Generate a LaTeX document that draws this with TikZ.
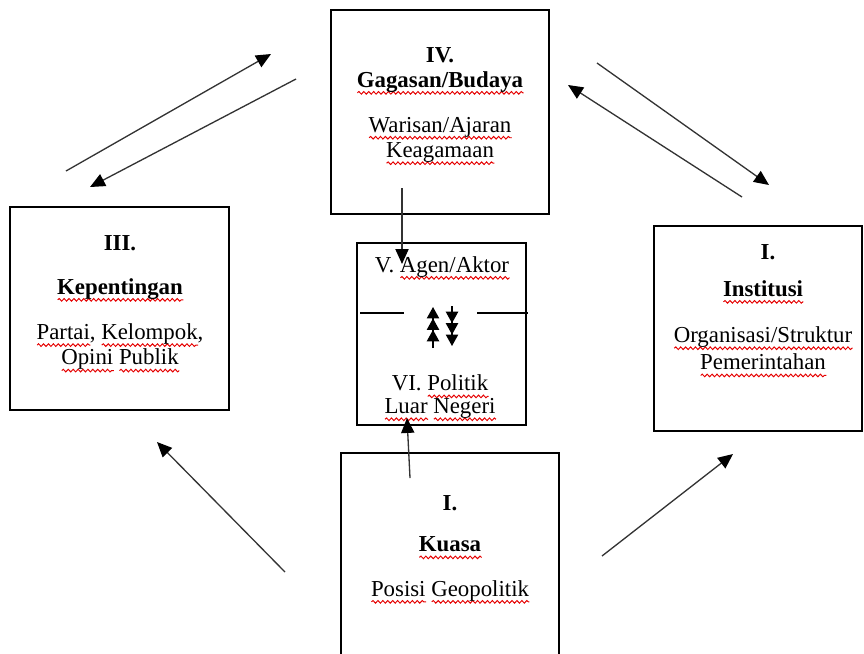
\documentclass[tikz,border=0pt]{standalone}
\usepackage{fontspec}
\setmainfont{Liberation Serif}
\usetikzlibrary{arrows.meta,decorations.pathmorphing}

% red wavy underline
\newsavebox\spellbox
\newcommand\spell[1]{\sbox\spellbox{#1}\rlap{\tikz[baseline=3.2pt,x=1cm,y=1cm]\draw[red!90!black, line width=0.55pt, decorate,
	decoration={snake, amplitude=0.75pt, segment length=2.8pt}] (0,0) -- (\wd\spellbox,0);}\usebox\spellbox}

\tikzset{
	box/.style={draw, line width=1.4pt, inner sep=0pt},
	txt/.style={font=\fontsize{13}{14.5}\selectfont, align=center, inner sep=1pt},
	hd/.style={txt, font=\fontsize{13}{14.5}\selectfont\bfseries},
	link/.style={line width=0.75pt, draw=black!80, -{Triangle[length=8.5pt,width=7.5pt,color=black]}},
	tri/.style={line width=0.7pt, -{Triangle[length=6.5pt,width=7pt] Triangle[length=6.5pt,width=7pt] Triangle[length=6.5pt,width=7pt]}}
}

\begin{document}
\begin{tikzpicture}[x=0.02cm, y=-0.02cm]
	\useasboundingbox (0,0) rectangle (864,653);
	% boxes
	\node[box, minimum width=4.36cm, minimum height=4.08cm] (gagasan) at (440,112) {};
	\node[box, minimum width=4.38cm, minimum height=4.06cm] (kepentingan) at (119.5,308.5) {};
	\node[box, minimum width=3.38cm, minimum height=3.64cm] (agen) at (441.5,334) {};
	\node[box, minimum width=4.16cm, minimum height=4.1cm] (institusi) at (758,328.5) {};
	\node[box, minimum width=4.36cm, minimum height=4.54cm] (kuasa) at (450,566.5) {};
	% texts
	\node[hd] (t4) at (440,55) {IV.};
	\node[hd] (n4) at (440,83) {\spell{Gagasan/Budaya}};
	\node[txt] (d4) at (440,141) {\spell{Warisan/Ajaran}\\ \spell{Keagamaan}};
	\node[hd] (t3) at (120,243) {III.};
	\node[hd] (n3) at (120,290) {\spell{Kepentingan}};
	\node[txt] (d3) at (120,348) {\spell{Partai}, \spell{Kelompok},\\ \spell{Opini} \spell{Publik}};
	\node[txt] (n5) at (442,268) {V. \spell{Agen/Aktor}};
	\node[txt] (n6) at (440,398) {VI. \spell{Politik}\\[-1.5pt] \spell{Luar} \spell{Negeri}};
	\node[hd] (t1) at (768,252) {I.};
	\node[hd] (n1) at (763,292) {\spell{Institusi}};
	\node[txt] (d1) at (763,352) {\spell{Organisasi/Struktur}\\[1pt] \spell{Pemerintahan}};
	\node[hd] (t0) at (450,503) {I.};
	\node[hd] (n0) at (450,548) {\spell{Kuasa}};
	\node[txt] (d0) at (450,592) {\spell{Posisi} \spell{Geopolitik}};
	% divider in V
	\draw[line width=0.7pt] (360,313) -- (404,313);
	\draw[line width=0.7pt] (477,313) -- (528,313);
	% arrow ends
	\coordinate (a1) at (66,171);   \coordinate (b1) at (271,54);
	\coordinate (a2) at (296,79);   \coordinate (b2) at (90,187);
	\coordinate (a3) at (597,63);   \coordinate (b3) at (769,185);
	\coordinate (a4) at (742,197);  \coordinate (b4) at (568,85);
	\coordinate (a5) at (285,572);  \coordinate (b5) at (157,442);
	\coordinate (a6) at (602,556);  \coordinate (b6) at (733,454);
	\coordinate (a7) at (402,188);  \coordinate (b7) at (402,264);
	\coordinate (a8) at (410,478);  \coordinate (b8) at (407,418);
	\foreach \i in {1,...,8} \draw[link] (a\i) -- (b\i);
	\coordinate (up0) at (433,348);   \coordinate (up1) at (433,307);
	\coordinate (dn0) at (452,306);   \coordinate (dn1) at (452,346);
	\draw[tri] (up0) -- (up1);
	\draw[tri] (dn0) -- (dn1);
\end{tikzpicture}
\end{document}
